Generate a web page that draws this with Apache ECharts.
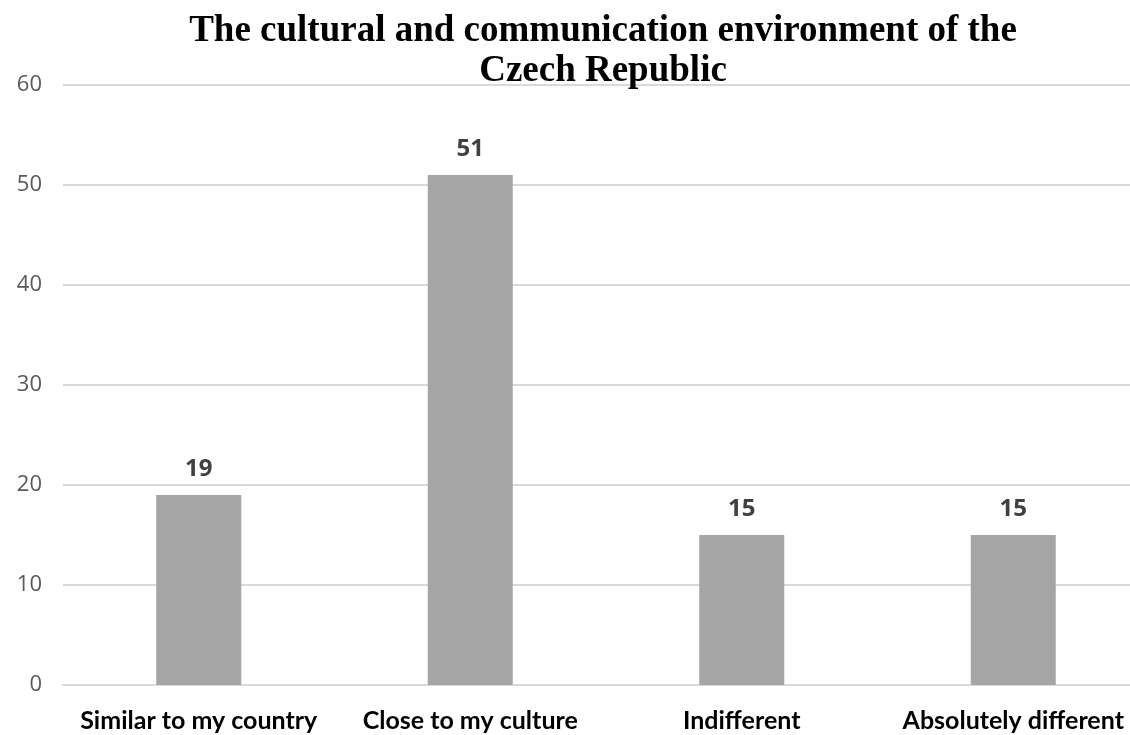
<!DOCTYPE html>
<html>
<head>
<meta charset="utf-8">
<script src="https://cdn.jsdelivr.net/npm/echarts@6/dist/echarts.min.js"></script>
<style>
  html, body { margin: 0; padding: 0; background: #fff; }
  #chart { width: 1130px; height: 735px; }
</style>
</head>
<body>
<div id="chart"></div>
<script>
// Survey answers about the Czech cultural and communication environment
const categories = ['Similar to my country', 'Close to my culture', 'Indifferent', 'Absolutely different'];
const values = [19, 51, 15, 15];
const yTicks = { min: 0, max: 60, step: 10 };

const chart = echarts.init(document.getElementById('chart'));
chart.setOption({
  animation: false,
  backgroundColor: '#ffffff',
  title: {
    text: 'The cultural and communication environment of the\nCzech Republic',
    left: 598,
    textAlign: 'center',
    top: 6,
    textStyle: {
      fontFamily: '"Liberation Serif", "Times New Roman", serif',
      fontWeight: 'bold',
      fontSize: 37,
      lineHeight: 40,
      color: '#000000'
    }
  },
  // the plot runs a little past the right edge of the canvas
  grid: { left: 63, top: 85, width: 1086, height: 600, containLabel: false, outerBoundsMode: 'none' },
  xAxis: {
    type: 'category',
    data: categories,
    axisLine: { show: true, lineStyle: { color: '#d9d9d9', width: 2 } },
    axisTick: { show: false },
    axisLabel: {
      interval: 0,
      margin: 23,
      fontFamily: 'Lato, "Open Sans", sans-serif',
      fontWeight: 'bold',
      fontSize: 25,
      color: '#000000'
    }
  },
  yAxis: {
    type: 'value',
    min: yTicks.min,
    max: yTicks.max,
    interval: yTicks.step,
    axisLine: { show: false },
    axisTick: { show: false },
    splitLine: { lineStyle: { color: '#d9d9d9', width: 2 } },
    axisLabel: {
      margin: 21,
      fontFamily: '"Open Sans", "DejaVu Sans", sans-serif',
      fontSize: 22,
      color: '#595959'
    }
  },
  series: [{
    type: 'bar',
    data: values,
    barWidth: 85,
    itemStyle: { color: '#a5a5a5' },
    label: {
      show: true,
      position: 'top',
      distance: 14,
      fontFamily: '"Open Sans", sans-serif',
      fontWeight: 'bold',
      fontSize: 24,
      color: '#404040'
    }
  }]
});
</script>
</body>
</html>
